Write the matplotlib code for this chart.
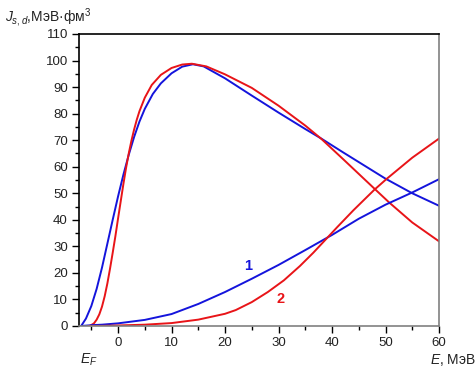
import matplotlib
matplotlib.use("Agg")
import matplotlib.pyplot as plt
from matplotlib.ticker import MultipleLocator

plt.rcParams['font.family'] = ['Liberation Sans', 'DejaVu Sans']
plt.rcParams['mathtext.fontset'] = 'custom'
plt.rcParams['mathtext.rm'] = 'Liberation Sans'
plt.rcParams['mathtext.it'] = 'Liberation Sans:italic'

# curve 1 (blue), upper branch
e1_up = [-6.9, -6, -5, -4, -3, -2, -1, 0, 1, 2, 3, 4, 5, 6.5, 8, 10, 12, 14,
         16, 20, 25, 30, 35, 38, 42, 46, 50, 55, 60]
j1_up = [0, 2.8, 7.5, 14.0, 22.0, 31.0, 40.0, 48.8, 57.0, 64.5, 71.2, 77.0, 81.8, 87.4, 91.4, 95.2, 97.7, 98.6,
         97.8, 93.3, 86.8, 80.4, 74.2, 70.6, 65.5, 60.5, 55.5, 50, 45.3]

# curve 2 (red), upper branch
e2_up = [-5.3, -4.5, -4, -3.5, -3, -2.5, -2, -1.5, -1, -0.5, 0, 0.5, 1, 1.5, 2, 2.5, 3, 3.5, 4,
         5, 6.3, 8, 10, 12, 13.8, 16.5, 20, 25, 30, 35, 38, 42, 46, 48, 50.7, 55, 60]
j2_up = [0, 1.0, 2.4, 4.4, 7.3, 11.2, 16.0, 21.6, 27.6, 33.8, 40.5, 47.0, 53.5, 59.6, 65.0, 69.8, 74.0, 77.7, 80.9,
         86.0, 90.8, 94.6, 97.2, 98.5, 98.8, 97.8, 94.8, 89.7, 83.0, 75.5, 70.5, 63.0, 55.4, 51.6, 46.5, 39.0, 31.9]

# curve 1 (blue), lower branch
e1_lo = [-6.9, -5, -3, 0, 5, 10, 15, 20, 25, 30, 35, 40, 45, 50, 55, 60]
j1_lo = [0, 0.3, 0.5, 1.0, 2.3, 4.5, 8.3, 12.8, 17.8, 23.0, 28.6, 34.3, 40.4, 45.7, 50.3, 55.3]

# curve 2 (red), lower branch
e2_lo = [-5.5, -3, 0, 5, 10, 15, 20, 22, 25, 28, 31, 34, 36.5, 38.5, 41, 44, 47.9, 50.2, 55, 60]
j2_lo = [0, 0.05, 0.2, 0.5, 1.1, 2.4, 4.6, 6.0, 9.0, 12.8, 17.2, 22.6, 27.6, 31.9, 37.3, 43.6, 51.3, 55.4, 63.4, 70.6]

blue = '#1414dc'
red = '#e81418'

fig = plt.figure(figsize=(4.76, 3.67), dpi=100)
ax = fig.add_axes([79/476, 1 - 326/367, 360/476, 292/367])

lw = 1.4
ax.plot(e1_up, j1_up, color=blue, lw=lw)
ax.plot(e2_up, j2_up, color=red, lw=lw)
ax.plot(e1_lo, j1_lo, color=blue, lw=lw)
ax.plot(e2_lo, j2_lo, color=red, lw=lw)

ax.set_xlim(-7.3, 60)
ax.set_ylim(0, 110)
ax.xaxis.set_major_locator(MultipleLocator(10))
ax.xaxis.set_minor_locator(MultipleLocator(5))
ax.yaxis.set_major_locator(MultipleLocator(10))
ax.yaxis.set_minor_locator(MultipleLocator(5))
ax.tick_params(which='major', direction='out', length=5, width=1, labelsize=9.5, pad=3,
               labelcolor='#222222')
ax.tick_params(which='minor', direction='out', length=3, width=1)

ax.spines['top'].set_color('black')
ax.spines['left'].set_color('black')
ax.spines['right'].set_color('#808080')
ax.spines['bottom'].set_color('#808080')
for s in ax.spines.values():
    s.set_linewidth(1.2)

ax.text(24.3, 22.5, '1', color=blue, fontsize=10.5, fontweight='bold', ha='center', va='center')
ax.text(30.4, 10.3, '2', color=red, fontsize=10.5, fontweight='bold', ha='center', va='center')

fig.text(5/476, 1 - 18/367, r'$J_{s,d}$,МэВ·фм$^3$', fontsize=10, ha='left', va='center',
         color='#222222')
fig.text(476/476, 1 - 360/367, r'$E$, МэВ', fontsize=10, ha='right', va='center', color='#222222')
fig.text(80/476, 1 - 360/367, r'$E_F$', fontsize=10, ha='left', va='center', color='#222222')

fig.savefig('out.png', dpi=100)
